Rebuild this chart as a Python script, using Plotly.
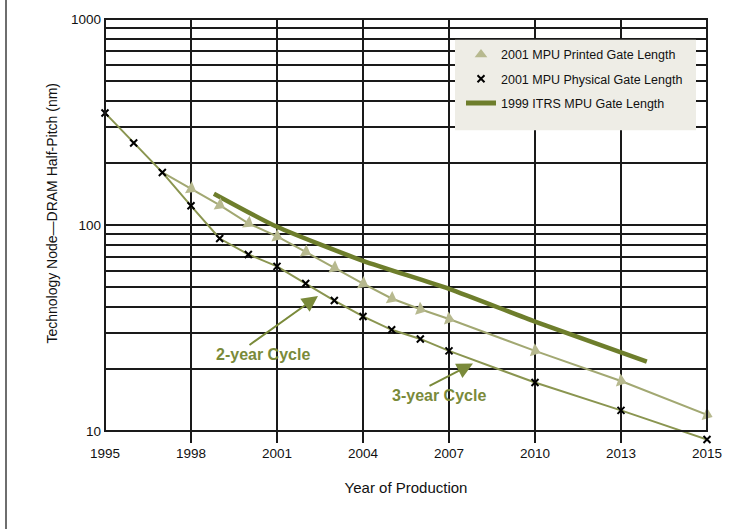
import math
import plotly.graph_objects as go

# ---- data ----
printed_years = [1997, 1998, 1999, 2000, 2001, 2002, 2003, 2004, 2005, 2006, 2007, 2010, 2013, 2016]
printed_nm = [180, 150, 125, 102, 88, 74, 62, 52, 44, 39, 35, 24.5, 17.5, 12]

physical_years = [1995, 1996, 1997, 1998, 1999, 2000, 2001, 2002, 2003, 2004, 2005, 2006, 2007, 2010, 2013, 2016]
physical_nm = [350, 250, 180, 124, 86, 72, 63, 52, 43, 36, 31, 28, 24.5, 17.2, 12.6, 9.1]

itrs99_years = [1998.8, 2001, 2004, 2007, 2010, 2013.9]
itrs99_nm = [142, 98, 67, 49, 34, 21.7]

x_tickvals = [1995, 1998, 2001, 2004, 2007, 2010, 2013, 2016]
x_ticktext = ["1995", "1998", "2001", "2004", "2007", "2010", "2013", "2015"]
y_tickvals = [10, 100, 1000]
y_ticktext = ["10", "100", "1000"]
y_minor = [20, 30, 40, 50, 60, 70, 80, 90, 200, 300, 400, 500, 600, 700, 800, 900]

names = ["2001 MPU Printed Gate Length", "2001 MPU Physical Gate Length", "1999 ITRS MPU Gate Length"]

# ---- layout geometry (pixels) ----
W, H = 748, 529
L, R, T, B = 105, 41, 16, 86
PW, PH = W - L - R, H - T - B
Y_LOW = 8.75          # axis extends a bit below 10 so the last physical point shows
Y_HIGH = 1000


def px(xp):
    return (xp - L) / PW


def py(yp):
    return (H - B - yp) / PH


y10_paper = (math.log10(10) - math.log10(Y_LOW)) / (math.log10(Y_HIGH) - math.log10(Y_LOW))

# ---- styles ----
FONT = "Liberation Sans, Arial, sans-serif"
C_TRI = "#b7b98f"
C_PRINT_LINE = "#a2a872"
C_PHYS_LINE = "#8a9550"
C_ITRS = "#6e7e2c"
C_TEXT = "#7a8a3a"
GRID = "#1a1a1a"

fig = go.Figure()

fig.add_trace(go.Scatter(
    x=itrs99_years, y=itrs99_nm, mode="lines", line=dict(color=C_ITRS, width=4.5, shape="spline", smoothing=0.6),
    showlegend=False, hoverinfo="skip"))

fig.add_trace(go.Scatter(
    x=printed_years, y=printed_nm, mode="lines+markers",
    line=dict(color=C_PRINT_LINE, width=2),
    marker=dict(symbol="triangle-up", size=12, color=C_TRI, angleref="previous"),
    showlegend=False, cliponaxis=False))

fig.add_trace(go.Scatter(
    x=physical_years, y=physical_nm, mode="lines+markers",
    line=dict(color=C_PHYS_LINE, width=2),
    marker=dict(symbol="x-thin", size=7, color="black", line=dict(color="black", width=2)),
    showlegend=False, cliponaxis=False))

# legend-only entries
fig.add_trace(go.Scatter(x=[None], y=[None], mode="markers", name=names[0], legendgroup="a",
                         marker=dict(symbol="triangle-up", size=11, color=C_TRI)))
fig.add_trace(go.Scatter(x=[None], y=[None], mode="markers", name=names[1], legendgroup="b",
                         marker=dict(symbol="x-thin", size=7, color="black", line=dict(color="black", width=2))))
fig.add_trace(go.Scatter(x=[None], y=[None], mode="lines", name=names[2], legendgroup="c",
                         line=dict(color=C_ITRS, width=5)))

fig.update_layout(
    width=W, height=H,
    margin=dict(l=L, r=R, t=T, b=B),
    paper_bgcolor="white", plot_bgcolor="white",
    font=dict(family=FONT, size=13.5, color="#111"),
    showlegend=True,
    legend=dict(x=px(461), y=py(37), xanchor="left", yanchor="top", bgcolor="rgba(0,0,0,0)",
                borderwidth=0, font=dict(family=FONT, size=12.5, color="#111"),
                tracegroupgap=5),
    xaxis=dict(range=[1995, 2016], tickvals=x_tickvals, ticktext=x_ticktext,
               showgrid=True, gridcolor=GRID, gridwidth=1.6,
               showline=False, ticks="", ticklabelstandoff=0, zeroline=False,
               title=dict(text="Year of Production", font=dict(family=FONT, size=15), standoff=22)),
    yaxis=dict(type="log", range=[math.log10(Y_LOW), math.log10(Y_HIGH)],
               tickvals=y_tickvals, ticktext=y_ticktext, ticklabelstandoff=3,
               showgrid=True, gridcolor=GRID, gridwidth=1.6,
               minor=dict(tickvals=y_minor, showgrid=True, gridcolor=GRID, gridwidth=1.6, ticks=""),
               showline=False, ticks="", zeroline=False),
)

# hide the vertical grid below the 10 nm line
fig.add_shape(type="rect", xref="paper", yref="paper", x0=-0.01, x1=1.01, y0=-0.01, y1=y10_paper - 0.002,
              line=dict(width=0), fillcolor="white", layer="between")
# plot frame from 10 to 1000 nm
fig.add_shape(type="rect", xref="paper", yref="paper", x0=0, x1=1, y0=y10_paper, y1=1,
              line=dict(color=GRID, width=2), fillcolor="rgba(0,0,0,0)", layer="above")
# legend background box
fig.add_shape(type="rect", xref="paper", yref="paper", x0=px(455), x1=px(696), y0=py(128), y1=py(37),
              line=dict(width=0), fillcolor="#eeede6", layer="above")

# y-axis title as annotation
fig.add_annotation(text="Technology Node\u2014DRAM Half-Pitch (nm)", xref="paper", yref="paper",
                   x=px(52), y=py(212), xanchor="center", yanchor="middle", textangle=-90, showarrow=False,
                   font=dict(family=FONT, size=14, color="#111"))

# cycle annotations
fig.add_annotation(text="<b>2-year Cycle</b>", xref="paper", yref="paper", x=px(263), y=py(354),
                   xanchor="center", yanchor="middle",
                   showarrow=False, font=dict(family=FONT, size=16, color=C_TEXT))
fig.add_annotation(text="<b>3-year Cycle</b>", xref="paper", yref="paper", x=px(439), y=py(395),
                   xanchor="center", yanchor="middle",
                   showarrow=False, font=dict(family=FONT, size=16, color=C_TEXT))
fig.add_annotation(text="", xref="paper", yref="paper", x=px(318), y=py(295), ax=-70, ay=50,
                   showarrow=True, arrowhead=2, arrowsize=1.6, arrowwidth=2, arrowcolor=C_TEXT)
fig.add_annotation(text="", xref="paper", yref="paper", x=px(473), y=py(363), ax=-45, ay=23,
                   showarrow=True, arrowhead=2, arrowsize=1.6, arrowwidth=2, arrowcolor=C_TEXT)

# left page border line
fig.add_shape(type="line", xref="paper", yref="paper", x0=px(6), x1=px(6), y0=py(H + 5), y1=py(-5),
              line=dict(color="#6e6e6e", width=2))

fig.write_html("out.html", config={"displayModeBar": False},
               post_script="document.body.style.margin='0';")
